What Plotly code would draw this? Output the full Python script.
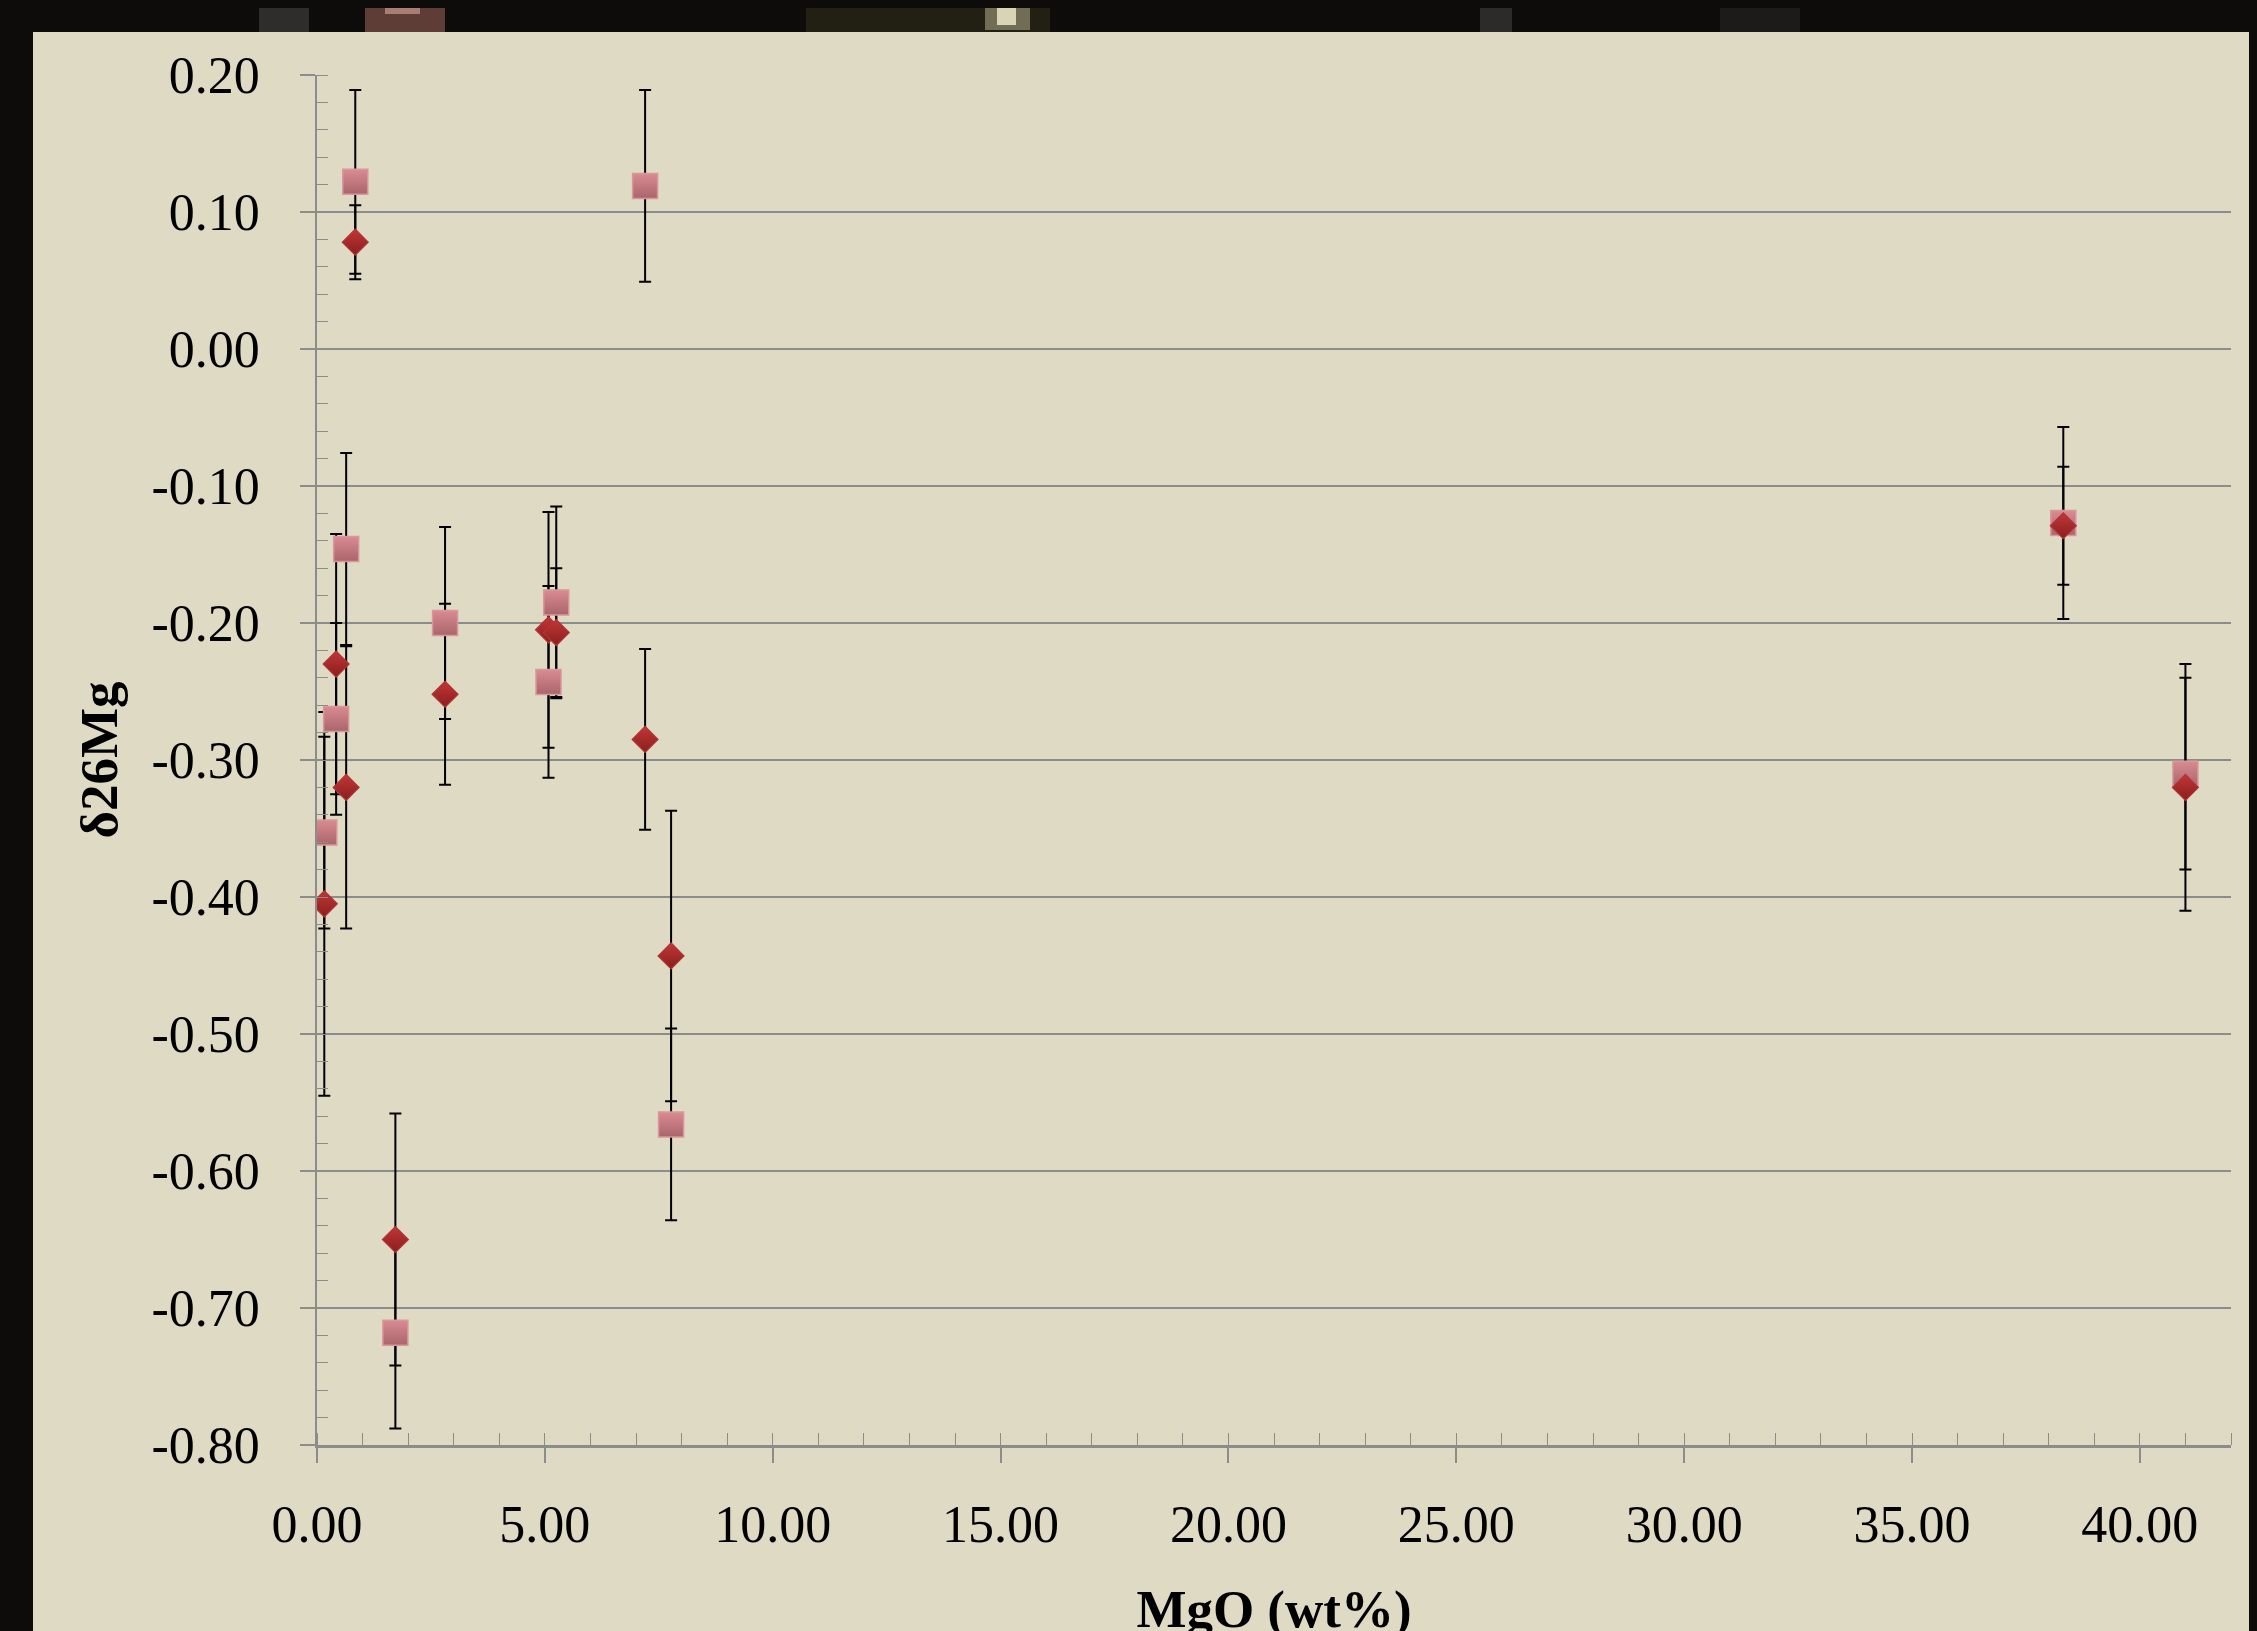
import plotly.graph_objects as go

# ---------------- data ----------------
mgo = [0.16, 0.42, 0.64, 0.84, 1.72, 2.81, 5.08, 5.25, 7.20, 7.77, 38.32, 41.00]

d26_diamond = [-0.405, -0.230, -0.320, 0.078, -0.650, -0.252, -0.205, -0.207, -0.285, -0.443, -0.129, -0.320]
err_diamond = [0.140, 0.095, 0.103, 0.027, 0.092, 0.066, 0.086, 0.047, 0.066, 0.106, 0.043, 0.090]

d26_square = [-0.353, -0.270, -0.146, 0.122, -0.718, -0.200, -0.243, -0.185, 0.119, -0.566, -0.127, -0.310]
err_square = [0.070, 0.070, 0.070, 0.067, 0.070, 0.070, 0.070, 0.070, 0.070, 0.070, 0.070, 0.070]

x_tick_vals = [0, 5, 10, 15, 20, 25, 30, 35, 40]
x_tick_text = ["0.00", "5.00", "10.00", "15.00", "20.00", "25.00", "30.00", "35.00", "40.00"]
y_tick_vals = [0.2, 0.1, 0.0, -0.1, -0.2, -0.3, -0.4, -0.5, -0.6, -0.7, -0.8]
y_tick_text = ["0.20", "0.10", "0.00", "-0.10", "-0.20", "-0.30", "-0.40", "-0.50", "-0.60", "-0.70", "-0.80"]

# ---------------- style ----------------
W, H = 2257, 1631
OFF = 8  # page body margin offset
ML, MR, MT, MB = 317 - OFF, 26 + OFF, 75 - OFF, 186 + OFF
PW, PH = W - ML - MR, H - MT - MB
BEIGE = "#DEDAC4"
GRID = "#8C8C8A"
DARK = "#0E0C0A"
FONT = "Liberation Serif, Times New Roman, serif"


def px_x(p):
    # page pixel -> paper coordinate
    return (p - OFF - ML) / PW


def px_y(p):
    return (H - MB - (p - OFF)) / PH


fig = go.Figure()

# error bars first (beneath all markers)
fig.add_trace(go.Scatter(
    x=mgo, y=d26_square, mode="markers",
    marker=dict(size=2, opacity=0),
    error_y=dict(type="data", array=err_square, visible=True,
                 color="black", thickness=2, width=6),
    hoverinfo="skip", showlegend=False))
fig.add_trace(go.Scatter(
    x=mgo, y=d26_diamond, mode="markers",
    marker=dict(size=2, opacity=0),
    error_y=dict(type="data", array=err_diamond, visible=True,
                 color="black", thickness=2, width=6),
    hoverinfo="skip", showlegend=False))

# markers
fig.add_trace(go.Scatter(
    x=mgo, y=d26_square, mode="markers", name="square",
    marker=dict(symbol="square", size=25, color="#DA8B92",
                gradient=dict(type="vertical", color="#A9656B"),
                line=dict(color="#D9969C", width=1.5)),
    showlegend=False))
fig.add_trace(go.Scatter(
    x=mgo, y=d26_diamond, mode="markers", name="diamond",
    marker=dict(symbol="diamond", size=20, color="#C23636",
                gradient=dict(type="vertical", color="#8A1E1E"),
                line=dict(color="#B13535", width=1.2)),
    showlegend=False))

# ---------------- dark photo frame (decoration) ----------------
shapes = []
shapes.append(dict(type="rect", xref="paper", yref="paper",
                   x0=px_x(0), x1=px_x(W + 20), y0=px_y(32), y1=px_y(0),
                   fillcolor=DARK, line=dict(width=0), layer="above"))
shapes.append(dict(type="rect", xref="paper", yref="paper",
                   x0=px_x(0), x1=px_x(33), y0=px_y(H + 20), y1=px_y(0),
                   fillcolor=DARK, line=dict(width=0), layer="above"))
patches = [
    (259, 309, 0, 32, "rgba(110,110,105,0.35)"),
    (365, 445, 0, 32, "rgba(150,95,85,0.6)"),
    (385, 420, 0, 14, "rgba(215,170,160,0.6)"),
    (806, 1050, 0, 32, "rgba(60,58,30,0.45)"),
    (985, 1030, 0, 30, "rgba(190,185,150,0.5)"),
    (997, 1016, 0, 25, "rgba(235,230,200,0.85)"),
    (1480, 1512, 0, 32, "rgba(90,90,90,0.4)"),
    (1720, 1800, 0, 32, "rgba(50,50,50,0.4)"),
]
for x0, x1, y0, y1, c in patches:
    shapes.append(dict(type="rect", xref="paper", yref="paper",
                       x0=px_x(x0), x1=px_x(x1), y0=px_y(y1), y1=px_y(y0),
                       fillcolor=c, line=dict(width=0), layer="above"))

fig.update_layout(
    width=W, height=H,
    margin=dict(l=ML, r=MR, t=MT, b=MB, pad=0),
    paper_bgcolor=BEIGE, plot_bgcolor=BEIGE,
    font=dict(family=FONT, color="black", size=52),
    shapes=shapes,
    xaxis=dict(
        range=[0, 42], tickmode="array", tickvals=x_tick_vals, ticktext=x_tick_text,
        ticks="outside", ticklen=15, tickwidth=1.5, tickcolor=GRID,
        ticklabelstandoff=17,
        tickfont=dict(family=FONT, size=52, color="black"),
        minor=dict(tickmode="linear", tick0=0, dtick=1, ticks="inside",
                   ticklen=12, tickwidth=1.2, tickcolor=GRID, showgrid=False),
        showgrid=False, zeroline=False,
        showline=True, linecolor=GRID, linewidth=2.5,
        title=dict(text="<b>MgO (wt%)</b>", font=dict(family=FONT, size=53),
                   standoff=63),
        automargin=False,
    ),
    yaxis=dict(
        range=[-0.8, 0.2], tickmode="array", tickvals=y_tick_vals, ticktext=y_tick_text,
        ticks="outside", ticklen=15, tickwidth=1.5, tickcolor=GRID,
        ticklabelstandoff=30,
        tickfont=dict(family=FONT, size=52, color="black"),
        minor=dict(tickmode="linear", tick0=0, dtick=0.02, ticks="inside",
                   ticklen=11, tickwidth=1.2, tickcolor=GRID, showgrid=False),
        showgrid=True, gridcolor=GRID, gridwidth=1.5,
        zeroline=False,
        showline=True, linecolor=GRID, linewidth=1.5,
        title=dict(text="<b>δ26Mg</b>", font=dict(family=FONT, size=53),
                   standoff=17),
        automargin=False,
    ),
)

fig.write_html(
    "out.html",
    post_script=(
        "document.body.style.background='%s';"
        "document.documentElement.style.background='%s';" % (DARK, DARK)
    ),
)
